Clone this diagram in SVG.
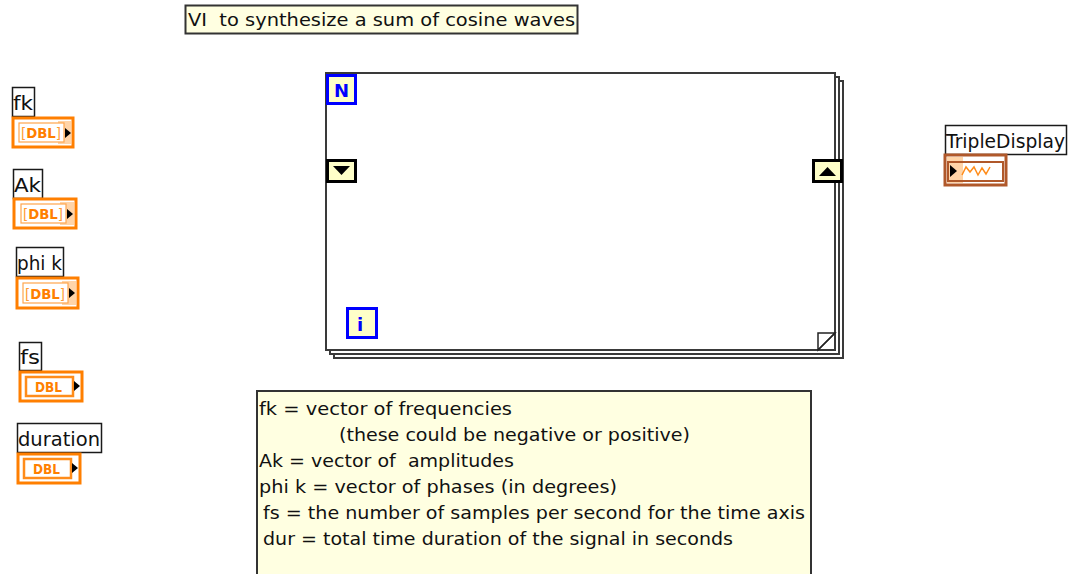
<svg xmlns="http://www.w3.org/2000/svg" width="1069" height="574" viewBox="0 0 1069 574">
<style>
.lbl{fill:#fff;stroke:#1a1a1a;stroke-width:1.5}
.lt{font-family:"DejaVu Sans","Liberation Sans",sans-serif;font-size:19px;fill:#111;white-space:pre}
.ct{font-family:"DejaVu Sans","Liberation Sans",sans-serif;font-size:18.5px;fill:#111;white-space:pre}
.dout{fill:#fff;stroke:#FF7F00;stroke-width:3}
.din{fill:#fff;stroke:#FFA64D;stroke-width:1.2}
.dinS{fill:#fff;stroke:#FF8C1A;stroke-width:2.5}
.dshade{fill:#FFD4A8}
.dt{font-family:"DejaVu Sans","Liberation Sans",sans-serif;font-size:14px;font-weight:bold;fill:#FF7F00}
.br{font-weight:normal;fill:#FF9A33}
.page{fill:#fff;stroke:#3a3a3a;stroke-width:2}
.term{fill:#FFFFC8;stroke:#0000FF;stroke-width:3}
.termt{font-family:"DejaVu Sans","Liberation Sans",sans-serif;font-size:18px;font-weight:bold;fill:#0000FF}
.sr{fill:#FFFFC8;stroke:#000;stroke-width:3}
.note{fill:#FFFFE1;stroke:#333;stroke-width:2}
</style>
<defs>
<g id="arrT"><polygon points="0,0 6,5 0,10" fill="#000"/></g>
</defs>
<rect width="1069" height="574" fill="#fff"/>

<g id="title">
<rect class="note" x="185.5" y="5.5" width="392" height="28"/>
<text class="ct" x="188" y="26" textLength="387" lengthAdjust="spacingAndGlyphs">VI  to synthesize a sum of cosine waves</text>
</g>

<g id="fk">
<rect class="lbl" x="12.5" y="87.5" width="22" height="29"/>
<text class="lt" x="13" y="110" textLength="20" lengthAdjust="spacingAndGlyphs">fk</text>
<rect class="dout" x="13" y="118" width="60" height="29"/>
<rect class="dshade" x="58" y="121" width="13" height="23"/>
<rect class="din" x="19" y="123" width="45" height="19"/>
<text class="dt" x="21" y="138" textLength="40" lengthAdjust="spacingAndGlyphs"><tspan class="br">[</tspan>DBL<tspan class="br">]</tspan></text>
<use href="#arrT" x="65" y="128"/>
</g>

<g id="Ak">
<rect class="lbl" x="13.5" y="169.5" width="29" height="29"/>
<text class="lt" x="14" y="192" textLength="27" lengthAdjust="spacingAndGlyphs">Ak</text>
<rect class="dout" x="14" y="199" width="62" height="29"/>
<rect class="dshade" x="60" y="202" width="14" height="23"/>
<rect class="din" x="21" y="204" width="45" height="19"/>
<text class="dt" x="23" y="219" textLength="40" lengthAdjust="spacingAndGlyphs"><tspan class="br">[</tspan>DBL<tspan class="br">]</tspan></text>
<use href="#arrT" x="67" y="209"/>
</g>

<g id="phik">
<rect class="lbl" x="16.5" y="247.5" width="47" height="29"/>
<text class="lt" x="17" y="270" textLength="45" lengthAdjust="spacingAndGlyphs">phi k</text>
<rect class="dout" x="17" y="278" width="61" height="30"/>
<rect class="dshade" x="62" y="281" width="14" height="24"/>
<rect class="din" x="23" y="283" width="45" height="20"/>
<text class="dt" x="25" y="298.5" textLength="40" lengthAdjust="spacingAndGlyphs"><tspan class="br">[</tspan>DBL<tspan class="br">]</tspan></text>
<use href="#arrT" x="69" y="288"/>
</g>

<g id="fs">
<rect class="lbl" x="19.5" y="342.5" width="22" height="28"/>
<text class="lt" x="20" y="364" textLength="20" lengthAdjust="spacingAndGlyphs">fs</text>
<rect class="dout" x="20" y="372" width="62" height="29"/>
<rect class="dinS" x="26" y="377" width="47" height="19"/>
<text class="dt" x="35" y="392" textLength="27" lengthAdjust="spacingAndGlyphs">DBL</text>
<use href="#arrT" x="74" y="381"/>
</g>

<g id="duration">
<rect class="lbl" x="17.5" y="423.5" width="84" height="29"/>
<text class="lt" x="18" y="446" textLength="82" lengthAdjust="spacingAndGlyphs">duration</text>
<rect class="dout" x="18" y="454" width="62" height="29"/>
<rect class="dinS" x="24" y="459" width="47" height="19"/>
<text class="dt" x="33" y="474" textLength="27" lengthAdjust="spacingAndGlyphs">DBL</text>
<use href="#arrT" x="72" y="463"/>
</g>

<g id="forloop">
<rect class="page" x="334" y="81" width="509" height="277"/>
<rect class="page" x="330" y="77" width="509" height="277"/>
<rect class="page" x="326" y="73" width="509" height="277"/>
<polygon points="818,333 835,333 818,350" fill="#fff" stroke="#222" stroke-width="1.5"/>
<line x1="818" y1="350" x2="835" y2="333" stroke="#222" stroke-width="1.5"/>
<g id="N">
<rect class="term" x="327.5" y="75.5" width="28" height="28"/>
<text class="termt" x="334" y="97">N</text>
</g>
<g id="i">
<rect class="term" x="347.5" y="308.5" width="29" height="29"/>
<text class="termt" x="357" y="331">i</text>
</g>
<g id="srLeft">
<rect class="sr" x="327.5" y="160.5" width="28" height="21"/>
<polygon points="333,166 350,166 341.5,175" fill="#000"/>
</g>
<g id="srRight">
<rect class="sr" x="813.5" y="160.5" width="28" height="21"/>
<polygon points="819,176 836,176 827.5,167" fill="#000"/>
</g>
</g>

<g id="TripleDisplay">
<rect class="lbl" x="945.5" y="125.5" width="121" height="29"/>
<text class="lt" x="946" y="148" textLength="119" lengthAdjust="spacingAndGlyphs">TripleDisplay</text>
<rect x="945" y="155" width="61" height="30" fill="#fff" stroke="#B0582A" stroke-width="3"/>
<rect x="947" y="157" width="16" height="26" fill="#FFD4A8"/>
<rect x="948" y="162" width="55" height="19" fill="none" stroke="#B0582A" stroke-width="2"/>
<polygon points="950,165 957,171 950,177" fill="#000"/>
<path d="M962,175 L966,167 L970,172 L974,167 L978,175 L982,168 L986,174 L990,167" fill="none" stroke="#FF8C1A" stroke-width="1.5"/>
</g>

<g id="comment">
<rect class="note" x="257" y="391" width="554" height="190"/>
<text class="ct" x="259" y="415" textLength="253" lengthAdjust="spacingAndGlyphs">fk = vector of frequencies</text>
<text class="ct" x="339" y="441" textLength="351" lengthAdjust="spacingAndGlyphs">(these could be negative or positive)</text>
<text class="ct" x="259" y="467" textLength="255" lengthAdjust="spacingAndGlyphs">Ak = vector of  amplitudes</text>
<text class="ct" x="259" y="493" textLength="358" lengthAdjust="spacingAndGlyphs">phi k = vector of phases (in degrees)</text>
<text class="ct" x="263" y="519" textLength="542" lengthAdjust="spacingAndGlyphs">fs = the number of samples per second for the time axis</text>
<text class="ct" x="263" y="545" textLength="470" lengthAdjust="spacingAndGlyphs">dur = total time duration of the signal in seconds</text>
</g>
</svg>
